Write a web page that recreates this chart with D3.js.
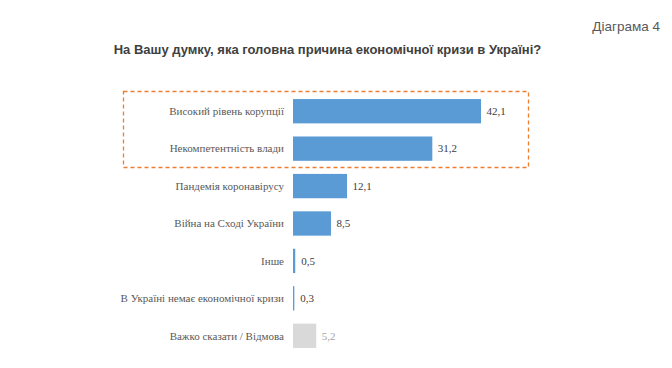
<!DOCTYPE html>
<html><head><meta charset="utf-8">
<script src="https://cdn.jsdelivr.net/npm/d3@7"></script>
<style>body{margin:0;background:#fff}svg{display:block}
.sans{font-family:"Liberation Sans",Arial,sans-serif}
.serif{font-family:"Liberation Serif","Times New Roman","DejaVu Serif",serif}
</style>
</head><body>
<script>
const categories = ["Високий рівень корупції","Некомпетентність влади","Пандемія коронавірусу","Війна на Сході України","Інше","В Україні немає економічної кризи","Важко сказати / Відмова"];
const values = [42.1,31.2,12.1,8.5,0.5,0.3,5.2];
const labels = ["42,1","31,2","12,1","8,5","0,5","0,3","5,2"];
const title = "На Вашу думку, яка головна причина економічної кризи в Україні?";
const caption = "Діаграма 4";

const W=672,H=368;
const svg=d3.select("body").append("svg").attr("width",W).attr("height",H);
const x=d3.scaleLinear().domain([0,42.1]).range([293,481]);
const y=d3.scaleBand().domain(categories).range([92.5,354.5]).paddingInner(0.35).paddingOuter(0.175);

svg.append("text").attr("class","sans").attr("x",660).attr("y",31).attr("text-anchor","end")
 .attr("font-size",13.5).attr("fill","#595959").text(caption);
svg.append("text").attr("class","sans").attr("x",327.5).attr("y",54).attr("text-anchor","middle")
 .attr("font-weight","bold").attr("font-size",13).attr("fill","#404040").text(title);

svg.append("rect").attr("x",123.5).attr("y",91.5).attr("width",405).attr("height",76)
 .attr("fill","none").attr("stroke","#ED7D31").attr("stroke-width",1.3).attr("stroke-dasharray","4,3");

const g=svg.append("g");
categories.forEach((c,i)=>{
  const yy=y(c), bh=y.bandwidth();
  const last=i===categories.length-1;
  g.append("rect").attr("x",x(0)).attr("y",yy).attr("width",Math.max(1.2,x(values[i])-x(0))).attr("height",bh)
   .attr("fill",last?"#D9D9D9":"#5B9BD5");
  g.append("text").attr("class","serif").attr("x",284).attr("y",yy+bh/2).attr("dy","0.35em").attr("text-anchor","end")
   .attr("font-size",11).attr("fill","#595959").text(c);
  g.append("text").attr("class","serif").attr("x",x(values[i])+(values[i]<1?6:5.5)).attr("y",yy+bh/2).attr("dy","0.35em")
   .attr("font-size",11).attr("fill",last?"#A6A6A6":"#404040").text(labels[i]);
});
</script>
</body></html>
